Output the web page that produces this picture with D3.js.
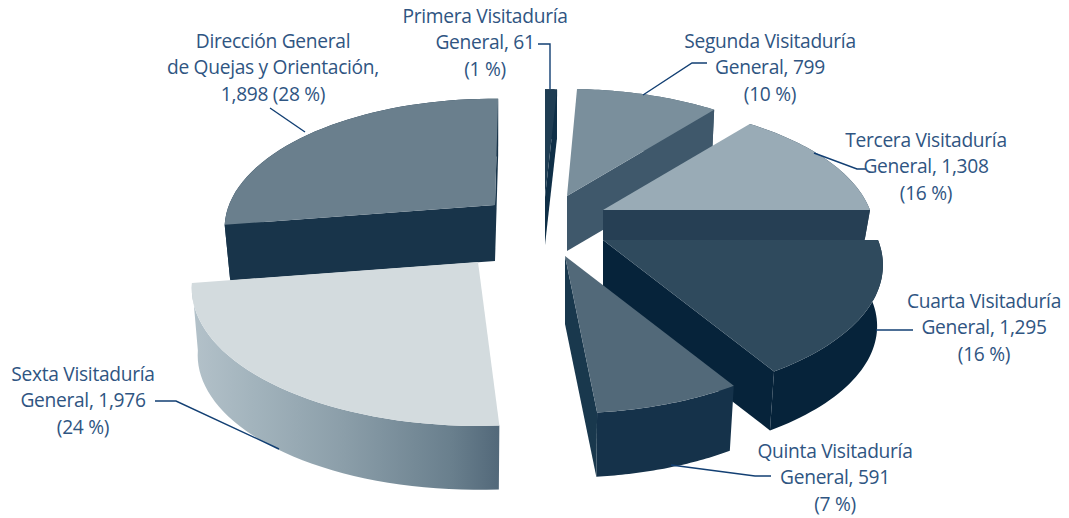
<!DOCTYPE html>
<html><head><meta charset="utf-8">
<style>html,body{margin:0;padding:0;background:#fff}svg{display:block}
text{font-family:"Open Sans",sans-serif;font-size:19.2px;fill:#2f5582;text-anchor:middle;letter-spacing:-0.3px}</style>
<script src="https://cdn.jsdelivr.net/npm/d3@7/dist/d3.min.js"></script>
</head><body><div id="chart"></div>
<script>
// Data
const categories = ["Primera Visitaduría","Segunda Visitaduría","Tercera Visitaduría","Cuarta Visitaduría","Quinta Visitaduría","Sexta Visitaduría","Dirección General"];
const counts = [61,799,1308,1295,591,1976,1898];
const percents = [1,10,16,16,7,24,28];
const labelLines = [
  ["Primera Visitaduría","General, 61","(1 %)"],
  ["Segunda Visitaduría","General, 799","(10 %)"],
  ["Tercera Visitaduría","General, 1,308","(16 %)"],
  ["Cuarta Visitaduría","General, 1,295","(16 %)"],
  ["Quinta Visitaduría","General, 591","(7 %)"],
  ["Sexta Visitaduría","General, 1,976","(24 %)"],
  ["Dirección General","de Quejas y Orientación,","1,898 (28 %)"]
];
// Layout and style, per slice
const W=1069,H=518,cx=540,cy=235;
const shiftX=[5,27,63,63,25,-62,-45];
const shiftY=[-38,-39,-25,5,21,27,-30];
const radii=[270,268,267,275,272,281,266];
const depths=[48,55,30,62,68,68,56];
const trimStart=[0,-1,0,-5.3,-3.3,0,0];
const trimEnd=[-0.5,0,-5.3,-3.3,-2,0,0.8];
const topFill=["#1f3d53","#7a8f9c","#99abb6","#2f4a5d","#526979","#d3dbde","#6a7f8d"];
const radialFill=["#0f2f47","#3f586b","#263f54","#06233a","#19384d","#53697a","#18344a"];
const outerFill=["#0f2f47","#3f586b","#263f54","#06233a","#15324a","url(#sexta)","#18344a"];
const drawOrder=[0,6,1,2,3,4,5];
const labelX=[485,770,926,984,835,83,273];
const labelY=[23,48,147,308,458,381,48];
const lineGap=26.4;
const leaders=[
  [[538,44],[550,44],[550,89]],
  [[643,95],[692,63],[707,63]],
  [[814,153],[857,169],[866,169]],
  [[876,330],[913,330]],
  [[671,465],[755,476],[771,476]],
  [[155,401],[176,401],[279,449]],
  [[270,108],[305,132]]
];
const tilt=0.472, persp=0.19, refR=280, bottomShrink=0.98;

const pie=d3.pie().sort(null).startAngle(0).endAngle(2*Math.PI);
const arcs=pie(percents);
const deg=Math.PI/180;
const slices=arcs.map((a,i)=>({i,a0:a.startAngle+trimStart[i]*deg,a1:a.endAngle+trimEnd[i]*deg}));

// project polar plane coordinates through a simple perspective
function proj(i,t,r,level){
  const X=r*Math.sin(t),Z=r*Math.cos(t),s=1/(1+persp*Z/refR);
  return [cx+shiftX[i]+X*s, cy+shiftY[i]+(level?depths[i]:0)-Z*tilt*s];
}
const line=d3.line();
const sample=(a0,a1)=>d3.range(0,41).map(k=>a0+(a1-a0)*k/40);
const svg=d3.select("#chart").append("svg").attr("width",W).attr("height",H);
const grad=svg.append("defs").append("linearGradient").attr("id","sexta")
  .attr("gradientUnits","userSpaceOnUse").attr("x1",190).attr("x2",498).attr("y1",0).attr("y2",0);
[[0,"#b4c2ca"],[0.2,"#a3b4bd"],[0.5,"#8b9ea9"],[0.85,"#697f8d"],[1,"#53697a"]].forEach(s=>grad.append("stop").attr("offset",s[0]).attr("stop-color",s[1]));

const gs=svg.append("g").selectAll("g").data(drawOrder.map(i=>slices[i])).join("g");
gs.each(function(d){
  const g=d3.select(this),i=d.i,R=radii[i],Rb=R*bottomShrink;
  const top=sample(d.a0,d.a1).map(t=>proj(i,t,R,0));
  const bot=sample(d.a0,d.a1).map(t=>proj(i,t,Rb,1));
  const A=proj(i,0,0,0),B=proj(i,0,0,1);
  g.append("path").attr("d",line([...top,...bot.slice().reverse()])+"Z").attr("fill",outerFill[i]);
  // only the radial walls that face the viewer are drawn
  if(Math.sin(d.a0)<0) g.append("path").attr("d",line([A,top[0],bot[0],B])+"Z").attr("fill",radialFill[i]);
  if(Math.sin(d.a1)>0) g.append("path").attr("d",line([A,top[40],bot[40],B])+"Z").attr("fill",radialFill[i]);
  g.append("path").attr("d",line([A,...top])+"Z").attr("fill",topFill[i]);
});
svg.append("g").selectAll("path").data(leaders).join("path")
  .attr("d",d=>line(d)).attr("fill","none").attr("stroke","#123f73").attr("stroke-width",1.4);
const tg=svg.append("g").selectAll("text").data(labelLines).join("text")
  .attr("x",(d,i)=>labelX[i]).attr("y",(d,i)=>labelY[i]);
tg.selectAll("tspan").data((d,i)=>d.map((s,k)=>({s,k,x:labelX[i]}))).join("tspan")
  .attr("x",d=>d.x).attr("dy",d=>d.k?lineGap:0).text(d=>d.s);
</script></body></html>
